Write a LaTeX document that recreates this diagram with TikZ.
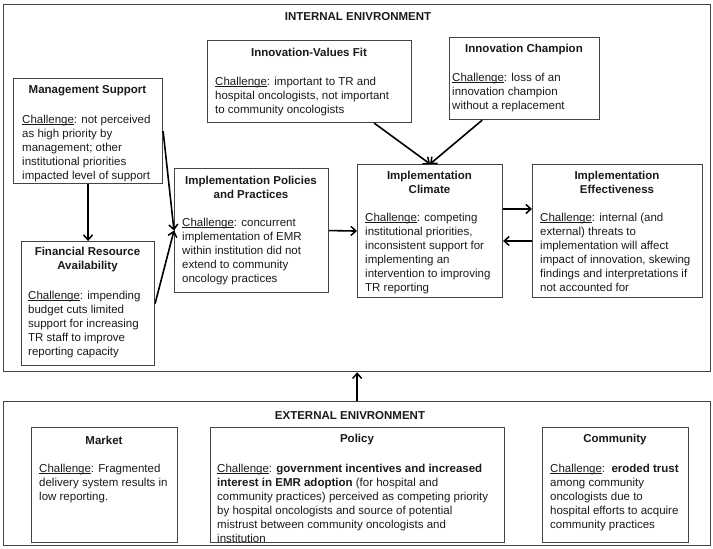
\documentclass[tikz,border=0pt]{standalone}
\usepackage{fontspec}
\setmainfont{Liberation Sans}
\usetikzlibrary{arrows.meta,calc}
\definecolor{ink}{HTML}{1A1A1A}
\definecolor{edgec}{HTML}{444444}
\tikzset{
  frame/.style={draw=edgec, line width=1.3pt, rectangle, inner sep=0pt, anchor=north west},
  box/.style={draw=edgec, line width=1.1pt, rectangle, inner sep=0pt, anchor=north west},
  ttl/.style={font=\fontsize{11.5}{14}\selectfont\bfseries, text=ink, align=center, inner sep=0pt},
  body/.style={font=\fontsize{11.5}{14}\selectfont, text=ink, align=left, inner sep=0pt, anchor=north west},
  link/.style={-{Straight Barb[length=5pt,width=9pt,line width=1.5pt]}, line width=1.6pt, black},
}
\newsavebox{\chalbox}
\newcommand{\chal}{\sbox{\chalbox}{Challenge}\rlap{\rule[-1.6pt]{\wd\chalbox}{0.6pt}}\usebox{\chalbox}}
\begin{document}
\begin{tikzpicture}[x=1pt,y=-1pt]
\useasboundingbox (0,0) rectangle (713,549);
% internal environment
\node[frame, minimum width=707pt, minimum height=367pt] (int) at (3,4) {};
\node[ttl] (intt) at (358,17) {INTERNAL ENIVRONMENT};

\node[box, minimum width=204pt, minimum height=82pt] (ivf) at (207,40) {};
\node[ttl] (ivft) at (309,52) {Innovation-Values Fit};
\node[body] (ivfb) at (215,76.5) {\chal: important to TR and\\hospital oncologists, not important\\to community oncologists};

\node[box, minimum width=150pt, minimum height=82pt] (ich) at (449,37) {};
\node[ttl] (icht) at (524,50) {Innovation Champion};
\node[body] (ichb) at (452,72.5) {\chal: loss of an\\innovation champion\\without a replacement};

\node[box, minimum width=149pt, minimum height=105pt] (ms) at (13,78) {};
\node[ttl] (mst) at (87.5,91) {Management Support};
\node[body] (msb) at (22,114.5) {\chal: not perceived\\as high priority by\\management; other\\institutional priorities\\impacted level of support};

\node[box, minimum width=133pt, minimum height=124pt] (fr) at (21,241) {};
\node[ttl] (frt) at (87.5,260) {Financial Resource\\Availability};
\node[body] (frb) at (28,290.5) {\chal: impending\\budget cuts limited\\support for increasing\\TR staff to improve\\reporting capacity};

\node[box, minimum width=154pt, minimum height=124pt] (pp) at (174,168) {};
\node[ttl] (ppt) at (251,187) {Implementation Policies\\and Practices};
\node[body] (ppb) at (182,217.5) {\chal: concurrent\\implementation of EMR\\within institution did not\\extend to community\\oncology practices};

\node[box, minimum width=145pt, minimum height=133pt] (cl) at (357,164) {};
\node[ttl] (clt) at (429.5,182.5) {Implementation\\Climate};
\node[body] (clb) at (365,212.5) {\chal: competing\\institutional priorities,\\inconsistent support for\\implementing an\\intervention to improving\\TR reporting};

\node[box, minimum width=170pt, minimum height=133pt] (ef) at (532,164) {};
\node[ttl] (eft) at (617,182.5) {Implementation\\Effectiveness};
\node[body] (efb) at (540,212.5) {\chal: internal (and\\external) threats to\\implementation will affect\\impact of innovation, skewing\\findings and interpretations if\\not accounted for};

% external environment
\node[frame, minimum width=707pt, minimum height=144pt] (ext) at (3,401) {};
\node[ttl] (extt) at (350,416) {EXTERNAL ENIVRONMENT};

\node[box, minimum width=146pt, minimum height=115pt] (mk) at (31,427) {};
\node[ttl] (mkt) at (104,440) {Market};
\node[body] (mkb) at (39,463.5) {\chal: Fragmented\\delivery system results in\\low reporting.};

\node[box, minimum width=294pt, minimum height=115pt] (po) at (210,427) {};
\node[ttl] (pot) at (357,440) {Policy};
\node[body] (pob) at (217,463.5) {\chal: \textbf{government incentives and increased}\\\textbf{interest in EMR adoption} (for hospital and\\community practices) perceived as competing priority\\by hospital oncologists and source of potential\\mistrust between community oncologists and\\institution};

\node[box, minimum width=146pt, minimum height=115pt] (cm) at (542,427) {};
\node[ttl] (cmt) at (615,440) {Community};
\node[body] (cmb) at (550,463.5) {\chal:\ \ \textbf{eroded trust}\\among community\\oncologists due to\\hospital efforts to acquire\\community practices};

% connectors
\coordinate (ya) at (0,209);
\coordinate (yb) at (0,241);
\draw[link] (ms.south) -- (fr.north);
\draw[link] (ms.east) -- (pp.west);
\draw[link] (fr.east) -- (pp.west);
\draw[link] (pp.east) -- (cl.west);
\draw[link] ($(ivf.south west)!0.815!(ivf.south east)$) -- (cl.north);
\draw[link] ($(ich.south west)!0.22!(ich.south east)$) -- (cl.north);
\draw[link] (cl.east |- ya) -- (ef.west |- ya);
\draw[link] (ef.west |- yb) -- (cl.east |- yb);
\draw[link] (ext.north) -- (int.south);
\end{tikzpicture}
\end{document}
